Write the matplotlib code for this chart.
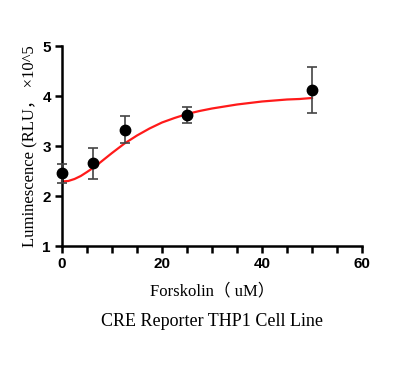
import numpy as np
import matplotlib
matplotlib.use('Agg')
import matplotlib.pyplot as plt
from matplotlib.ticker import MultipleLocator

# measured points (x10^5 RLU)
conc     = [0, 6.25, 12.5, 25, 50]
lum      = [2.46, 2.66, 3.33, 3.62, 4.12]
err_low  = [2.27, 2.35, 3.07, 3.47, 3.67]
err_high = [2.65, 2.97, 3.60, 3.78, 4.59]

# fitted curve
fit_x = [0, 1.25, 2.5, 3.75, 5, 6.25, 7.5, 8.75, 10, 12.5, 15, 17.5, 20, 22.5,
         25, 27.5, 30, 32.5, 35, 37.5, 40, 42.5, 45, 47.5, 50]
fit_y = [2.29, 2.30, 2.34, 2.40, 2.48, 2.565, 2.66, 2.76, 2.86, 3.05, 3.21,
         3.35, 3.47, 3.56, 3.64, 3.70, 3.75, 3.79, 3.83, 3.86, 3.89, 3.91,
         3.93, 3.94, 3.96]

yerr = [np.array(lum) - np.array(err_low), np.array(err_high) - np.array(lum)]

fig = plt.figure(figsize=(4.05, 3.74), dpi=100)
ax = fig.add_axes([62/405, 1-246/374, 300/405, 200/374])

ax.plot(fit_x, fit_y, color='#ff1a1a', lw=1.6, zorder=2, clip_on=False)
eb = ax.errorbar(conc, lum, yerr=yerr, fmt='o', color='black', ms=7.5,
                 ecolor='#444444', elinewidth=1.2, capsize=3.5, capthick=1.2,
                 zorder=3)
for artist in eb.lines[0:1] + eb.lines[1] + eb.lines[2]:
    if artist is not None:
        artist.set_clip_on(False)

ax.set_xlim(0, 60)
ax.set_ylim(1, 5)
ax.xaxis.set_major_locator(MultipleLocator(20))
ax.xaxis.set_minor_locator(MultipleLocator(5))
ax.yaxis.set_major_locator(MultipleLocator(1))
for s in ['top', 'right']:
    ax.spines[s].set_visible(False)
for s in ['left', 'bottom']:
    ax.spines[s].set_linewidth(1.8)
ax.tick_params(which='major', length=5, width=1.8, labelsize=11, pad=3)
ax.tick_params(which='minor', length=5, width=1.8)
for lab in ax.get_xticklabels() + ax.get_yticklabels():
    lab.set_fontweight('bold')
    lab.set_family('Liberation Sans')

serif = ['Liberation Serif', 'Noto Sans CJK SC']
ax.set_xlabel('Forskolin（ uM）', family=serif, fontsize=12, labelpad=9)
ax.set_ylabel('Luminescence (RLU， ×10^5', family=serif, fontsize=12, labelpad=3)
fig.text(212/405, 1-322/374, 'CRE Reporter THP1 Cell Line', family=serif,
         fontsize=13, ha='center', va='center')

plt.savefig('out.png', dpi=100)
